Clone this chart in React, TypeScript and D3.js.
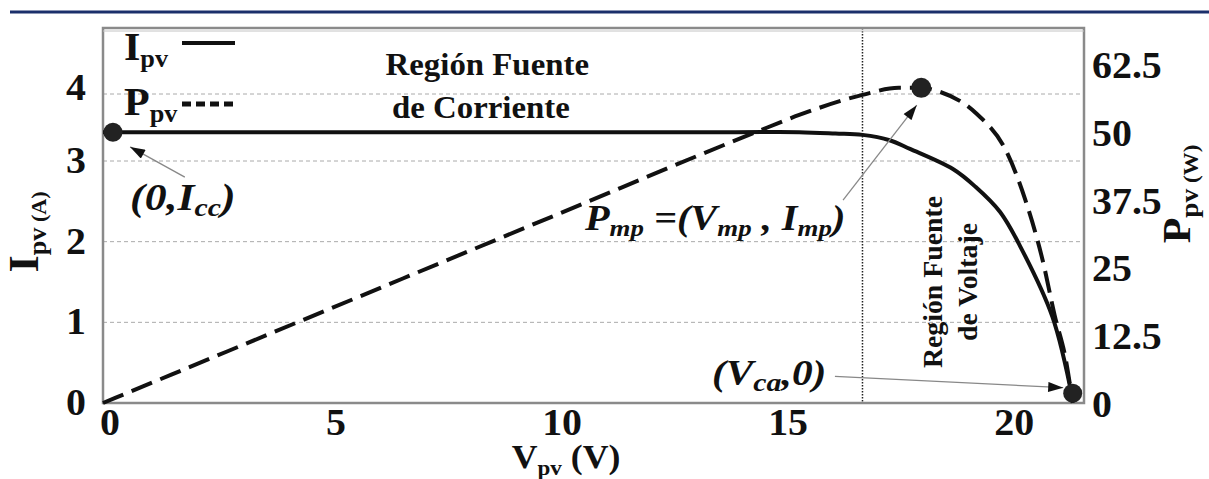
import React from 'react';
import * as d3 from 'd3';

// I-V curve of the PV module
const ivVoltage = [0, 5, 10, 14, 15.4, 16.2, 16.8, 17.4, 17.85, 18.8, 19.3, 19.84, 20.3, 21.0, 21.45];
const ivCurrent = [3.43, 3.43, 3.43, 3.43, 3.43, 3.41, 3.39, 3.31, 3.18, 2.9, 2.68, 2.37, 1.93, 1.07, 0.04];

// P-V curve
const pvVoltage = [0, 5, 10, 14.4, 15.4, 16.8, 17.6, 18.1, 18.5, 19.3, 20.0, 20.4, 20.8, 21.05, 21.3, 21.45];
const pvPower = [0, 17.3, 34.6, 49.8, 53.1, 56.8, 58.1, 58.1, 57.4, 53.5, 46.1, 37.5, 25.8, 16.2, 7.9, 0];

const xTicks = [0, 5, 10, 15, 20];
const leftTicks = [0, 1, 2, 3, 4];
const rightTicks = [0, 12.5, 25, 37.5, 50, 62.5];

// marked points
const iscPoint = { v: 0.22, i: 3.43 };
const mppPoint = { v: 18.1, p: 58.1 };
const vocPoint = { v: 21.45, i: 0.12 };
const regionBoundary = 16.8;

const W = 1209;
const H = 479;
const margin = { top: 28, right: 125, bottom: 76, left: 103 };
const FONT = '"Liberation Serif", "Times New Roman", serif';

// text stretched horizontally to match the wide glyphs of the original
const T = ({ x, y, rot = 0, sx = 1.05, anchor = 'start', size = 38, italic = false, children }: any) => (
  <g transform={`translate(${x},${y}) rotate(${rot}) scale(${sx},1)`}>
    <text
      textAnchor={anchor}
      fontFamily={FONT}
      fontWeight="bold"
      fontStyle={italic ? 'italic' : 'normal'}
      fontSize={size}
      fill="#111"
    >
      {children}
    </text>
  </g>
);

export default function App() {
  const x0 = margin.left;
  const x1 = W - margin.right;
  const yTop = margin.top;
  const yBot = H - margin.bottom;

  const x = d3.scaleLinear().domain([0, 21.7]).range([x0, x1]);
  // the original axis is not evenly spaced at the top
  const yI = d3.scaleLinear().domain([0, 3, 4]).range([yBot, 161, 94]);
  const yP = d3.scaleLinear().domain([0, 62.5]).range([yBot, 64]);

  const ivData = ivVoltage.map((v, k) => ({ v, val: ivCurrent[k] }));
  const pvData = pvVoltage.map((v, k) => ({ v, val: pvPower[k] }));

  const lineI = d3.line<any>().x(d => x(d.v)).y(d => yI(d.val)).curve(d3.curveCatmullRom.alpha(0.5));
  const lineP = d3.line<any>().x(d => x(d.v)).y(d => yP(d.val)).curve(d3.curveMonotoneX);

  const arrows = [
    { from: [x(1.81), yI(2.8)], to: [x(0.6), yI(3.21)] },
    { from: [x(16.37), yP(37.4)], to: [x(18.0), yP(54.9)] },
    { from: [x(16.19), yI(0.33)], to: [x(21.24), yI(0.19)] },
  ];

  return (
    <svg width={W} height={H} style={{ position: 'absolute', left: 0, top: 0, background: '#fff' }}>
      <defs>
        <marker id="ah" viewBox="0 0 12 8" refX="12" refY="4" markerWidth="16" markerHeight="10" markerUnits="userSpaceOnUse" orient="auto">
          <path d="M0,0 L12,4 L0,8 Z" fill="#111" />
        </marker>
      </defs>

      {/* top rule */}
      <line x1={10} x2={W} y1={12} y2={12} stroke="#1b2f6b" strokeWidth={3} />

      {/* grid */}
      {leftTicks.filter(t => t > 0).map(t => (
        <line key={t} x1={x0} x2={x1} y1={yI(t)} y2={yI(t)} stroke="#aaa" strokeWidth={1} strokeDasharray="4,3" />
      ))}
      <line x1={x(regionBoundary)} x2={x(regionBoundary)} y1={yTop} y2={yBot} stroke="#222" strokeWidth={1.5} strokeDasharray="1.5,1.5" />

      {/* frame */}
      <rect x={x0} y={yTop} width={x1 - x0} height={yBot - yTop} fill="none" stroke="#8a8a8a" strokeWidth={2.5} />
      <line x1={x0} x2={x1} y1={yTop + 3} y2={yTop + 3} stroke="#c4c4c4" strokeWidth={1} />

      {/* curves */}
      <path d={lineP(pvData) || ''} fill="none" stroke="#111" strokeWidth={4} strokeDasharray="22,9" />
      <path d={lineI(ivData) || ''} fill="none" stroke="#111" strokeWidth={4} />

      {/* points */}
      <circle cx={x(iscPoint.v)} cy={yI(iscPoint.i)} r={9.5} fill="#222" />
      <circle cx={x(mppPoint.v)} cy={yP(mppPoint.p)} r={10} fill="#222" />
      <circle cx={x(vocPoint.v)} cy={yI(vocPoint.i)} r={9.5} fill="#222" />

      {/* arrows */}
      {arrows.map((a, k) => (
        <line key={k} x1={a.from[0]} y1={a.from[1]} x2={a.to[0]} y2={a.to[1]} stroke="#888" strokeWidth={1.3} markerEnd="url(#ah)" />
      ))}

      {/* x tick labels */}
      {xTicks.map(t => (
        <T key={t} x={x(t) + 7} y={435} anchor="middle">{t}</T>
      ))}
      {/* left tick labels */}
      {leftTicks.map(t => (
        <T key={t} x={86} y={yI(t) + (t === 4 ? 6 : 12)} anchor="end">{t}</T>
      ))}
      {/* right tick labels */}
      {rightTicks.map(t => (
        <T key={t} x={1092} y={yP(t) + 14} anchor="start">{t}</T>
      ))}

      {/* axis titles */}
      <T x={566} y={468} anchor="middle" size={34}>
        V<tspan fontSize={22} dy={7}>pv</tspan><tspan dy={-7}> (V)</tspan>
      </T>
      <T x={38} y={232} rot={-90} anchor="middle" size={42}>
        I<tspan fontSize={25} dy={8}>pv</tspan><tspan fontSize={21}> (A)</tspan>
      </T>
      <T x={1190} y={194} rot={-90} anchor="middle" size={40}>
        P<tspan fontSize={26} dy={8}>pv</tspan><tspan fontSize={22}> (W)</tspan>
      </T>

      {/* legend */}
      <T x={124} y={60} size={40}>
        I<tspan fontSize={25} dy={7}>pv</tspan>
      </T>
      <line x1={182} x2={235} y1={43} y2={43} stroke="#111" strokeWidth={4} />
      <T x={124} y={115} size={40}>
        P<tspan fontSize={25} dy={7}>pv</tspan>
      </T>
      <line x1={182} x2={235} y1={104} y2={104} stroke="#111" strokeWidth={5} strokeDasharray="9,5" />

      {/* annotations */}
      <T x={x(8.5)} y={yI(4.28)} anchor="middle" size={31} sx={1.06}>Región Fuente</T>
      <T x={x(8.36)} y={yI(3.64)} anchor="middle" size={31} sx={1.06}>de Corriente</T>
      <T x={x(18.56)} y={yI(1.5)} rot={-90} anchor="middle" size={27} sx={1.03}>Región Fuente</T>
      <T x={x(19.34)} y={yI(1.5)} rot={-90} anchor="middle" size={27} sx={1.03}>de Voltaje</T>

      <T x={x(0.6)} y={yI(2.39)} size={38} sx={1.15} italic>
        (0,I<tspan fontSize={26} dy={6}>cc</tspan><tspan dy={-6}>)</tspan>
      </T>
      <T x={x(10.66)} y={yI(2.14)} size={36} sx={1.12} italic>
        P<tspan fontSize={24} dy={6}>mp</tspan><tspan dy={-6}> =(V</tspan><tspan fontSize={24} dy={6}>mp</tspan><tspan dy={-6}> , I</tspan><tspan fontSize={24} dy={6}>mp</tspan><tspan dy={-6}>)</tspan>
      </T>
      <T x={x(13.47)} y={yI(0.22)} size={36} sx={1.15} italic>
        (V<tspan fontSize={26} dy={6}>ca</tspan><tspan dy={-6}>,0)</tspan>
      </T>
    </svg>
  );
}
